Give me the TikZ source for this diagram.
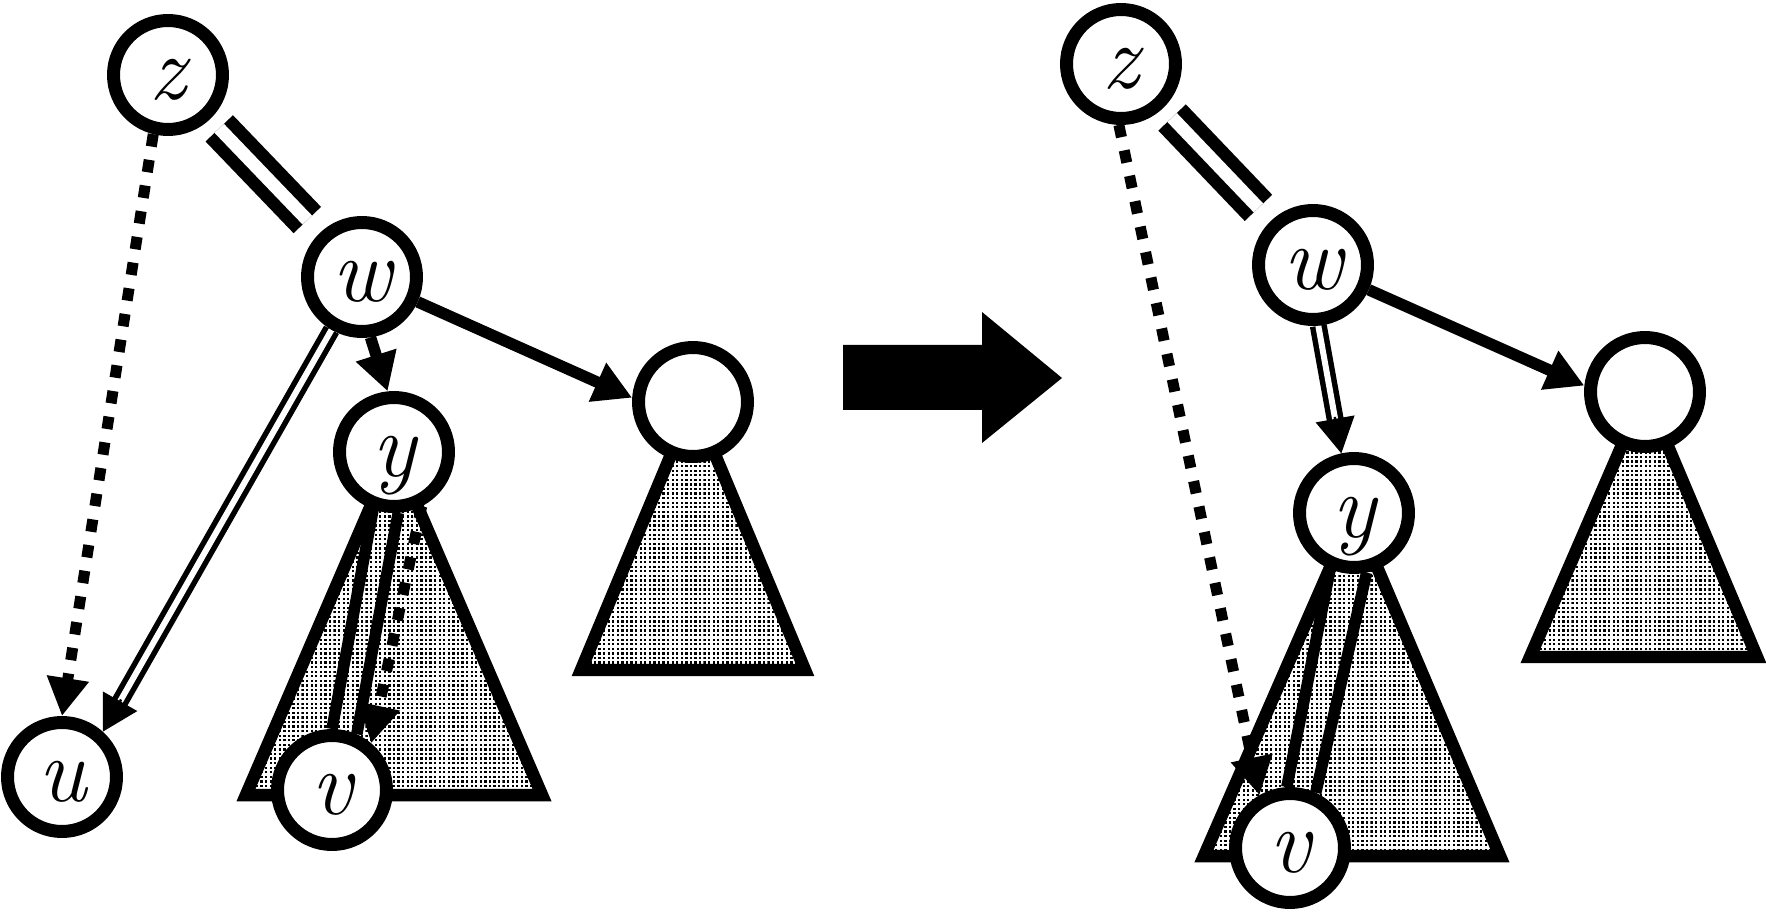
\documentclass[tikz,border=0pt]{standalone}
\usetikzlibrary{arrows.meta,patterns,calc}
\pgfdeclarelayer{bg}
\pgfsetlayers{bg,main}
\pgfdeclarepatternformonly{mydots}{\pgfqpoint{-0.1pt}{-0.1pt}}{\pgfqpoint{2.7pt}{2.7pt}}{\pgfqpoint{2.6pt}{2.6pt}}{\pgfpathrectangle{\pgfqpoint{0pt}{0pt}}{\pgfqpoint{1.3pt}{1.3pt}}\pgfusepath{fill}}
\tikzset{
  vtx/.style={circle, draw, line width=0.26cm, fill=white, minimum size=2.18cm, inner sep=0pt,
    text height=1.2cm, text depth=0.2cm, font=\fontsize{52}{56}\selectfont\itshape},
  subtree/.style={draw, line width=0.25cm, pattern=mydots},
  thickdbl/.style={line width=0.25cm, double=white, double distance=0.26cm},
  thindbl/.style={line width=0.11cm, double=white, double distance=0.12cm},
  solidedge/.style={line width=0.23cm},
  dotedge/.style={line width=0.22cm, dash pattern=on 0.25cm off 0.27cm},
  headtip/.style={-{Triangle[length=0.76cm,width=0.8cm]}},
  tiponly/.style={line width=0.05cm, -{Triangle[length=0.7cm,width=0.78cm]}}
}
\begin{document}
\begin{tikzpicture}[x=0.02cm,y=-0.02cm]
\useasboundingbox (0,0) rectangle (1766,915);

% ---- left tree ----
\node[vtx] (z1) at (168,75) {z};
\node[vtx] (w1) at (362,277) {w};
\node[vtx] (y1) at (394,452) {y};
\node[vtx] (v1) at (332,790) {v};
\node[vtx] (u1) at (62,777) {u};
\node[vtx] (n1) at (693,402) {};

% ---- right tree ----
\node[vtx] (z2) at (1121,64) {z};
\node[vtx] (w2) at (1313,265) {w};
\node[vtx] (y2) at (1354,513) {y};
\node[vtx] (v2) at (1290,848) {v};
\node[vtx] (n2) at (1645,392) {};

% ---- block arrow ----
\fill (843,345) -- (982,345) -- (982,312) -- (1062,378) -- (982,443) -- (982,410) -- (843,410) -- cycle;

\begin{pgfonlayer}{bg}
% subtrees
\draw[subtree] (y1.center) -- (246,795) -- (542,795) -- cycle;
\draw[subtree] (n1.center) -- (581,670) -- (805,670) -- cycle;
\draw[subtree] (y2.center) -- (1204,856) -- (1500,856) -- cycle;
\draw[subtree] (n2.center) -- (1530,657) -- (1757,657) -- cycle;

% left edges
\draw[thickdbl, shorten <=0.26cm, shorten >=0.36cm] (z1) -- (w1);
\draw[dotedge, headtip] (z1.256) -- (u1.90);
\draw[thindbl, shorten >=0.64cm] (w1.240) -- (u1.48);
\draw[tiponly] ($(u1.48)!0.74cm!(w1.240)$) -- (u1.48);
\draw[solidedge, headtip] (w1.278) -- (y1.96);
\draw[solidedge, headtip] (w1) -- (n1.176);
\draw[solidedge] (y1.250) -- (v1.90);
\draw[solidedge] (y1.274) -- (v1.66);
\draw[dotedge, headtip] (y1.297) -- (v1.50);

% right edges
\draw[thickdbl, shorten <=0.26cm, shorten >=0.36cm] (z2) -- (w2);
\draw[dotedge, headtip] (z2.268) -- (v2.120);
\draw[thindbl, shorten >=0.64cm] (w2.275) -- (y2.102);
\draw[tiponly] ($(y2.102)!0.74cm!(w2.275)$) -- (y2.102);
\draw[solidedge, headtip] (w2) -- (n2.174);
\draw[solidedge] (y2.247) -- (v2.93);
\draw[solidedge] (y2.282) -- (v2.65);
\end{pgfonlayer}
\end{tikzpicture}
\end{document}
